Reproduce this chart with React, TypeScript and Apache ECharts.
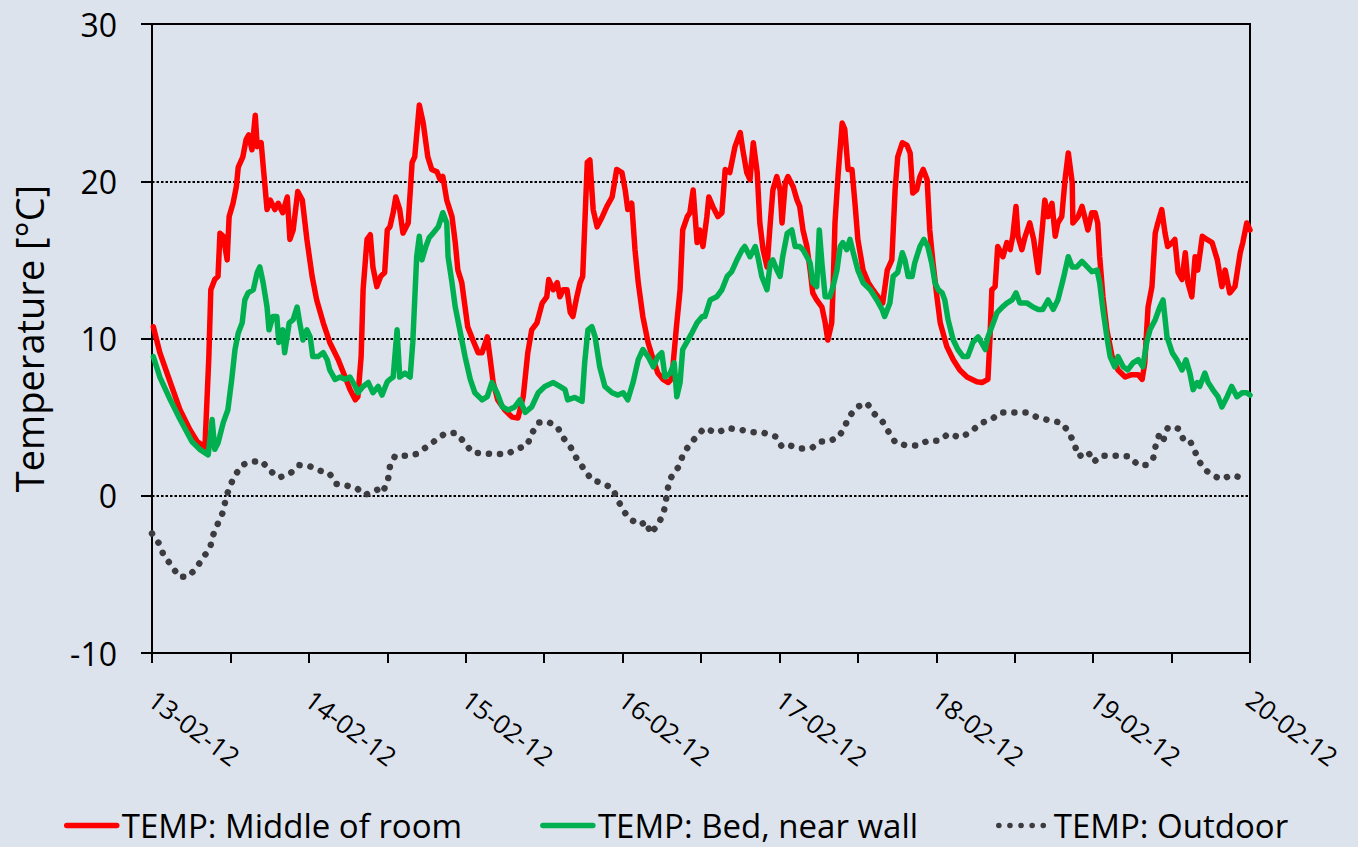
import { useEffect, useRef } from 'react';
import * as echarts from 'echarts';

const BG = '#dde3ed';
const FONT = '"Open Sans", sans-serif';

const dayLabels = ['13-02-12', '14-02-12', '15-02-12', '16-02-12', '17-02-12', '18-02-12', '19-02-12', '20-02-12'];
const yTicks = { min: -10, max: 30, step: 10 };
const hourRange = { min: 0, max: 168, step: 12 };

const seriesNames = ['TEMP: Middle of room', 'TEMP: Bed, near wall', 'TEMP: Outdoor'];

// [hours since 13-02-12 00:00, °C]
const middleOfRoom: [number, number][] = [
  [0.2, 10.75], [1.2, 9.1], [2.8, 7.2], [4.3, 5.45], [5.8, 4.2], [6.9, 3.45], [8.1, 3.1], [8.7, 8.85], [9.0, 13.1], [9.6, 13.75],
  [10.1, 13.95], [10.4, 16.7], [10.9, 16.5], [11.5, 15.0], [11.8, 17.75], [12.4, 18.6], [12.9, 19.65], [13.2, 20.9], [13.9, 21.55],
  [14.4, 22.65], [14.8, 22.95], [15.3, 22.0], [15.8, 24.2], [16.1, 22.2], [16.7, 22.45], [17.1, 20.55], [17.6, 18.2], [18.1, 18.8],
  [18.8, 18.2], [19.3, 18.6], [20.0, 18.0], [20.7, 19.0], [21.1, 16.3], [21.6, 16.9], [22.3, 19.35], [23.0, 18.8], [23.7, 16.3],
  [24.5, 13.95], [25.2, 12.45], [26.2, 11.0], [27.2, 9.75], [28.5, 8.65], [29.5, 7.6], [30.3, 6.75], [31.1, 6.1], [31.5, 6.3],
  [32.0, 8.85], [32.3, 13.1], [32.9, 16.3], [33.4, 16.6], [33.8, 14.55], [34.4, 13.3], [35.0, 13.95], [35.6, 14.2], [36.0, 16.9],
  [36.4, 17.1], [36.9, 18.0], [37.3, 19.0], [37.9, 18.2], [38.4, 16.7], [39.2, 17.35], [39.8, 21.2], [40.2, 21.55], [40.9, 24.85],
  [41.5, 23.7], [42.2, 21.55], [42.8, 20.75], [43.6, 20.6], [44.1, 20.1], [44.5, 20.3], [45.1, 18.8], [45.9, 17.75], [46.4, 16.1],
  [46.8, 14.35], [47.4, 13.55], [47.9, 12.0], [48.3, 10.75], [49.1, 9.9], [49.9, 9.1], [50.5, 9.1], [51.3, 10.1], [51.7, 8.85],
  [52.2, 7.2], [52.9, 6.1], [54.0, 5.45], [55.1, 5.0], [56.0, 4.95], [56.8, 6.3], [57.5, 9.1], [58.1, 10.55], [58.9, 11.0],
  [59.7, 12.25], [60.4, 12.65], [60.7, 13.75], [61.4, 13.1], [62.0, 13.55], [62.4, 12.65], [62.9, 13.1], [63.5, 13.1], [64.0, 11.65],
  [64.4, 11.4], [65.0, 12.65], [65.5, 13.55], [65.9, 13.95], [66.6, 21.2], [67.0, 21.35], [67.5, 18.2], [68.1, 17.1], [68.9, 17.75],
  [69.6, 18.4], [70.4, 19.0], [71.1, 20.75], [71.9, 20.55], [72.4, 19.45], [72.8, 18.2], [73.4, 18.6], [73.9, 15.65], [74.4, 13.55],
  [75.1, 11.4], [75.9, 9.75], [76.7, 8.65], [77.4, 7.8], [78.2, 7.4], [79.0, 7.2], [79.4, 7.4], [79.7, 8.2], [80.2, 10.55],
  [80.8, 13.1], [81.2, 16.9], [81.9, 17.75], [82.3, 18.0], [82.8, 19.45], [83.4, 16.1], [83.8, 16.9], [84.3, 15.85], [84.9, 17.75],
  [85.2, 19.0], [85.8, 18.4], [86.6, 17.75], [87.2, 18.0], [87.7, 20.75], [88.4, 20.55], [89.2, 22.2], [90.0, 23.1], [90.4, 22.0],
  [91.0, 20.55], [91.5, 20.1], [92.0, 22.45], [92.6, 20.55], [93.0, 17.35], [93.5, 15.65], [94.1, 14.55], [94.6, 17.35], [95.0, 19.45],
  [95.6, 20.3], [96.1, 19.45], [96.4, 17.35], [96.9, 19.9], [97.3, 20.3], [98.1, 19.65], [98.7, 18.8], [99.1, 18.4], [99.6, 16.9],
  [100.2, 15.85], [100.7, 14.35], [101.1, 12.9], [101.7, 12.45], [102.5, 12.0], [103.0, 11.0], [103.4, 9.9], [104.0, 11.0], [104.2, 13.1],
  [104.5, 17.35], [105.0, 20.55], [105.6, 23.7], [106.0, 23.3], [106.5, 20.75], [107.1, 20.75], [107.6, 18.4], [108.0, 16.3], [108.8, 14.35],
  [109.6, 13.55], [110.3, 13.1], [111.1, 12.65], [111.8, 12.25], [112.5, 14.35], [113.2, 15.0], [113.7, 19.45], [114.1, 21.55], [114.8, 22.45],
  [115.5, 22.3], [116.0, 21.8], [116.4, 19.25], [117.0, 19.45], [117.5, 20.3], [118.0, 20.75], [118.6, 20.1], [119.0, 16.9], [119.5, 14.8],
  [120.1, 12.65], [120.6, 11.0], [121.6, 9.5], [122.6, 8.65], [123.6, 8.0], [124.7, 7.55], [126.2, 7.25], [127.0, 7.2], [127.9, 7.4],
  [128.2, 9.9], [128.5, 13.1], [129.0, 13.3], [129.4, 15.85], [130.2, 15.2], [130.8, 16.1], [131.3, 15.65], [131.7, 16.5], [132.2, 18.4],
  [132.5, 16.5], [133.1, 15.65], [133.6, 16.5], [134.3, 17.35], [134.9, 16.3], [135.6, 14.2], [136.2, 16.9], [136.6, 18.8], [137.1, 17.75],
  [137.7, 18.6], [138.2, 16.5], [138.6, 17.35], [139.2, 17.75], [139.7, 20.1], [140.2, 21.8], [140.8, 19.9], [140.9, 17.35], [141.7, 17.75],
  [142.3, 18.4], [142.7, 17.75], [143.2, 16.9], [143.8, 18.0], [144.3, 18.0], [144.7, 17.35], [145.0, 15.2], [145.5, 12.65], [146.1, 10.55],
  [146.9, 8.85], [147.8, 8.0], [148.9, 7.55], [149.9, 7.7], [150.9, 7.7], [151.5, 7.4], [151.9, 8.45], [152.4, 12.0], [153.0, 13.3],
  [153.5, 16.7], [153.9, 17.35], [154.5, 18.2], [155.0, 16.7], [155.4, 15.85], [156.1, 16.1], [156.5, 16.3], [157.0, 14.2], [157.6, 13.75],
  [158.1, 15.45], [158.5, 13.55], [159.1, 12.65], [159.6, 15.2], [160.0, 14.35], [160.7, 16.5], [161.4, 16.3], [162.2, 16.1], [163.0, 15.0],
  [163.7, 13.3], [164.2, 14.35], [164.9, 12.9], [165.7, 13.3], [166.5, 15.45], [166.9, 16.1], [167.5, 17.35], [168.0, 16.9],
];

const bedNearWall: [number, number][] = [
  [0.2, 8.85], [1.2, 7.55], [2.8, 6.1], [4.3, 4.85], [6.1, 3.45], [7.3, 2.95], [8.6, 2.6], [9.2, 4.85], [9.6, 2.95], [10.1, 3.35],
  [10.9, 4.65], [11.6, 5.45], [12.2, 7.4], [12.7, 9.3], [13.2, 10.35], [13.8, 11.0], [14.2, 12.45], [14.7, 12.9], [15.5, 13.1],
  [16.1, 14.2], [16.5, 14.55], [17.0, 13.55], [17.6, 12.0], [17.9, 10.55], [18.5, 11.4], [19.1, 11.4], [19.4, 9.75], [20.0, 10.55],
  [20.3, 9.1], [21.0, 11.0], [21.6, 11.2], [22.2, 12.0], [22.6, 11.0], [23.1, 9.9], [23.7, 10.55], [24.2, 10.1], [24.6, 8.85],
  [25.4, 8.85], [26.2, 9.1], [26.8, 8.65], [27.2, 8.0], [28.0, 7.4], [28.8, 7.55], [29.5, 7.4], [30.3, 7.55], [31.1, 6.95],
  [31.5, 6.55], [32.3, 6.95], [33.1, 7.2], [33.8, 6.55], [34.6, 6.95], [35.2, 6.4], [36.0, 7.25], [36.4, 7.4], [36.9, 7.55],
  [37.5, 10.55], [37.9, 7.55], [38.7, 7.8], [39.5, 7.55], [39.9, 9.75], [40.5, 15.2], [40.9, 16.5], [41.3, 15.0], [41.9, 15.85],
  [42.4, 16.4], [43.0, 16.7], [43.8, 17.1], [44.5, 18.0], [45.1, 17.35], [45.3, 15.2], [45.9, 13.55], [46.4, 12.0], [47.1, 10.55],
  [47.9, 8.85], [48.7, 7.4], [49.4, 6.55], [50.5, 6.1], [51.3, 6.3], [52.0, 7.2], [52.8, 6.55], [53.6, 5.65], [54.5, 5.45],
  [55.5, 5.65], [56.3, 6.1], [57.1, 5.3], [58.1, 5.65], [59.1, 6.55], [60.1, 6.95], [61.4, 7.2], [62.4, 6.95], [63.2, 6.75],
  [63.6, 6.1], [64.7, 6.25], [65.8, 6.0], [66.2, 8.45], [66.7, 10.55], [67.3, 10.75], [67.8, 10.1], [68.5, 8.2], [69.3, 6.95],
  [70.4, 6.55], [71.3, 6.4], [72.1, 6.55], [72.8, 6.1], [73.6, 7.2], [74.4, 8.65], [75.1, 9.3], [75.9, 8.85], [76.7, 8.2],
  [77.4, 8.85], [78.0, 9.1], [78.5, 7.55], [79.3, 7.8], [79.9, 8.45], [80.3, 6.3], [80.8, 7.2], [81.2, 9.3], [82.0, 9.9],
  [82.6, 10.35], [83.4, 11.0], [84.2, 11.4], [84.6, 11.4], [85.4, 12.45], [86.4, 12.65], [87.2, 13.1], [88.0, 13.95], [88.7, 14.25],
  [89.5, 15.0], [90.3, 15.65], [90.7, 15.85], [91.5, 15.2], [92.3, 15.85], [92.7, 15.2], [93.3, 13.95], [94.1, 13.1], [94.6, 14.8],
  [95.0, 15.0], [95.6, 14.35], [96.1, 13.95], [96.5, 15.2], [97.2, 16.7], [97.9, 16.9], [98.4, 15.85], [99.1, 15.85], [99.6, 15.65],
  [100.2, 15.2], [100.7, 14.8], [101.1, 13.55], [101.7, 13.3], [102.1, 16.9], [102.5, 14.8], [103.0, 12.65], [103.7, 12.65], [104.2, 13.3],
  [104.8, 14.35], [105.3, 15.85], [105.7, 16.1], [106.3, 15.65], [106.8, 16.3], [107.3, 15.45], [108.0, 14.35], [108.8, 13.55], [109.9, 13.1],
  [110.9, 12.45], [111.7, 11.85], [112.1, 11.4], [112.9, 12.25], [113.4, 13.95], [114.1, 14.2], [114.8, 15.45], [115.2, 15.0], [115.7, 13.95],
  [116.3, 13.95], [116.7, 14.8], [117.5, 15.85], [118.1, 16.3], [118.7, 15.85], [119.3, 14.8], [119.8, 13.55], [120.3, 13.1], [120.9, 12.9],
  [121.3, 12.45], [121.8, 11.2], [122.6, 9.9], [123.3, 9.3], [124.1, 8.85], [124.8, 8.85], [125.6, 9.75], [126.4, 10.1], [126.7, 9.9],
  [127.5, 9.3], [127.9, 10.1], [128.5, 10.75], [129.3, 11.65], [130.1, 12.0], [130.8, 12.25], [131.6, 12.45], [132.2, 12.9], [132.8, 12.25],
  [133.9, 12.25], [134.8, 12.0], [135.6, 11.85], [136.3, 11.85], [137.1, 12.45], [137.9, 11.85], [138.6, 12.45], [139.4, 13.75], [140.2, 15.2],
  [140.8, 14.55], [141.5, 14.55], [142.3, 14.9], [143.1, 14.55], [143.8, 14.25], [144.6, 14.35], [145.0, 13.55], [145.5, 11.85], [146.1, 10.1],
  [146.6, 8.85], [147.3, 8.2], [147.8, 8.85], [148.6, 8.2], [149.3, 8.0], [150.1, 8.45], [150.9, 8.65], [151.6, 8.2], [152.2, 9.75],
  [152.7, 10.55], [153.5, 11.2], [154.2, 12.0], [154.7, 12.45], [155.3, 10.1], [156.1, 9.1], [156.8, 8.65], [157.6, 8.0], [158.2, 8.65],
  [158.8, 7.8], [159.3, 6.75], [159.9, 7.2], [160.3, 6.95], [161.1, 7.8], [161.6, 7.2], [162.3, 6.75], [163.1, 6.3], [163.7, 5.65],
  [164.5, 6.3], [165.2, 6.95], [166.0, 6.3], [166.8, 6.55], [167.5, 6.55], [168.0, 6.4],
];

const outdoor: [number, number][] = [
  [0, -2.4], [1.1, -3.05], [1.8, -3.8], [3.1, -4.5], [4.1, -5.15], [5.5, -5.15], [6.7, -4.65], [7.8, -3.95], [8.9, -3.3], [9.3, -2.55],
  [10.1, -1.75], [10.9, -1.0], [11.3, -0.15], [11.9, 0.6], [12.7, 1.3], [13.8, 1.95], [15.0, 2.15], [16.8, 2.2], [17.9, 1.65],
  [19.4, 1.15], [21.1, 1.4], [22.5, 1.95], [24.0, 1.9], [25.6, 1.6], [27.1, 1.45], [28.2, 0.75], [29.8, 0.65], [31.4, 0.45],
  [32.6, 0.05], [33.7, 0.25], [34.6, 0.4], [35.3, 0.2], [36.1, 1.0], [36.4, 1.85], [37.2, 2.55], [38.9, 2.55], [40.4, 2.65],
  [42.0, 3.1], [43.3, 3.5], [44.8, 3.95], [46.4, 4.0], [47.7, 3.45], [49.0, 2.75], [50.6, 2.7], [52.3, 2.65], [54.3, 2.65],
  [56.0, 3.0], [57.4, 3.2], [58.1, 3.95], [59.1, 4.65], [60.6, 4.7], [62.0, 4.4], [62.9, 3.7], [64.1, 3.05], [65.0, 2.35],
  [66.1, 1.7], [67.3, 1.0], [69.0, 0.8], [70.5, 0.45], [71.3, -0.3], [72.4, -1.1], [73.4, -1.55], [74.7, -1.85], [75.6, -1.65],
  [76.3, -2.4], [77.3, -1.9], [78.2, -1.2], [78.6, -0.45], [78.8, 0.3], [79.4, 1.15], [80.5, 1.8], [81.2, 2.55], [82.2, 3.25],
  [83.4, 3.8], [84.5, 4.3], [86.4, 4.0], [88.1, 4.3], [90.0, 4.2], [91.8, 4.05], [93.6, 4.0], [95.5, 3.75], [96.4, 3.1],
  [97.6, 3.2], [99.3, 3.0], [101.0, 3.05], [102.2, 3.45], [103.4, 3.45], [105.0, 3.7], [105.9, 4.3], [106.6, 5.0], [107.9, 5.65],
  [109.4, 5.9], [110.3, 5.3], [111.8, 4.7], [112.8, 4.0], [113.8, 3.35], [115.5, 3.2], [117.2, 3.2], [118.7, 3.5], [120.4, 3.5],
  [121.9, 3.95], [123.6, 3.7], [125.3, 4.05], [126.7, 4.6], [128.4, 4.85], [129.9, 5.3], [131.7, 5.3], [133.7, 5.3], [135.4, 5.0],
  [137.2, 4.8], [139.1, 4.65], [140.3, 4.05], [141.1, 3.3], [141.8, 2.5], [143.2, 2.8], [144.1, 2.15], [145.2, 2.55], [146.4, 2.55],
  [147.8, 2.55], [149.5, 2.5], [150.9, 1.95], [152.1, 1.95], [153.2, 2.4], [153.6, 3.25], [154.2, 4.0], [154.8, 3.6], [155.4, 4.3],
  [156.2, 4.4], [157.1, 4.25], [157.9, 3.5], [158.8, 3.5], [159.4, 3.0], [160.2, 2.2], [161.1, 1.65], [162.5, 1.25], [163.7, 1.05],
  [165.1, 1.3], [166.3, 1.2], [167.7, 1.1],
];

export default function App() {
  const ref = useRef<HTMLDivElement>(null);

  useEffect(() => {
    document.body.style.margin = '0';
    document.body.style.background = BG;
    const chart = echarts.init(ref.current as HTMLDivElement, null, { renderer: 'svg' });
    const textBase = { fontFamily: FONT, color: '#000' };
    chart.setOption({
      animation: false,
      backgroundColor: BG,
      grid: {
        left: 152,
        right: 108,
        top: 24,
        bottom: 194,
        show: true,
        borderColor: '#000',
        borderWidth: 2,
        backgroundColor: 'transparent',
        containLabel: false,
      },
      legend: {
        data: seriesNames,
        left: 59,
        top: 804,
        itemWidth: 50,
        itemHeight: 14,
        itemGap: 78,
        itemStyle: { opacity: 0 },
        lineStyle: { width: 5.5 },
        textStyle: { ...textBase, fontSize: 33 },
      },
      xAxis: {
        type: 'value',
        min: hourRange.min,
        max: hourRange.max,
        interval: hourRange.step,
        axisLine: { onZero: false, lineStyle: { color: '#000', width: 2 } },
        axisTick: { show: true, inside: false, length: 10, lineStyle: { color: '#000', width: 2 } },
        splitLine: { show: false },
        axisLabel: {
          ...textBase,
          fontSize: 26,
          rotate: -37,
          margin: 43,
          showMinLabel: true,
          showMaxLabel: true,
          formatter: (v: number) => (Math.round(v) % 24 === 0 ? dayLabels[Math.round(v) / 24] : ''),
        },
      },
      yAxis: {
        type: 'value',
        min: yTicks.min,
        max: yTicks.max,
        interval: yTicks.step,
        name: 'Temperature [°C]',
        nameLocation: 'middle',
        nameRotate: 90,
        nameGap: 104,
        nameTextStyle: { ...textBase, fontSize: 38 },
        axisLine: { show: true, lineStyle: { color: '#000', width: 2 } },
        axisTick: { show: true, inside: false, length: 11, lineStyle: { color: '#000', width: 2 } },
        axisLabel: { ...textBase, fontSize: 32, margin: 35 },
        splitLine: { show: true, lineStyle: { color: '#000', width: 2, type: [2.5, 2] } },
      },
      series: [
        {
          name: seriesNames[0],
          type: 'line',
          data: middleOfRoom,
          symbol: 'none',
          lineStyle: { color: '#ff0000', width: 5.5, join: 'round', cap: 'round' },
          itemStyle: { color: '#ff0000' },
          z: 3,
        },
        {
          name: seriesNames[1],
          type: 'line',
          data: bedNearWall,
          symbol: 'none',
          lineStyle: { color: '#00b050', width: 5.5, join: 'round', cap: 'round' },
          itemStyle: { color: '#00b050' },
          z: 4,
        },
        {
          name: seriesNames[2],
          type: 'line',
          data: outdoor,
          symbol: 'none',
          lineStyle: { color: '#3b3b40', width: 6.5, type: [0.1, 11], cap: 'round' },
          itemStyle: { color: '#3b3b40' },
          z: 5,
        },
      ],
    });
    return () => chart.dispose();
  }, []);

  return <div ref={ref} style={{ width: 1358, height: 847, background: BG }} />;
}
